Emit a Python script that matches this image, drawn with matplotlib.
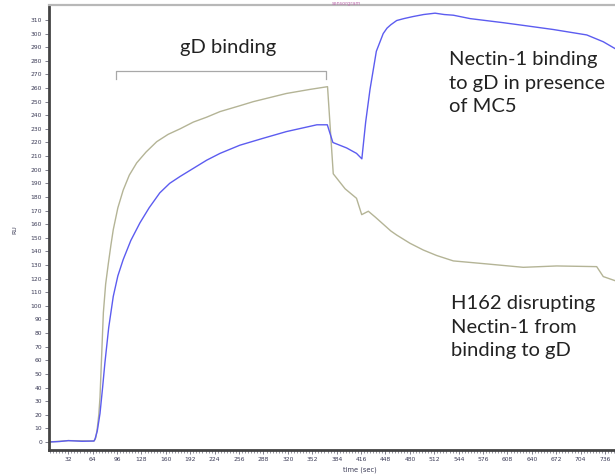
import matplotlib
matplotlib.use("Agg")
import matplotlib.pyplot as plt
from matplotlib.ticker import MultipleLocator

# ---- data ----
t_blue = [7, 20, 32, 50, 65.7, 67, 70, 73.6, 77, 80, 85, 91, 97, 104, 114, 126, 138, 152,
          165, 178.5, 196, 213.5, 231, 257, 287, 318, 358, 371.7, 379, 397, 410, 417,
          422, 427.7, 436, 445, 450, 455, 462.7, 472, 484, 498, 513, 525, 537, 559, 602.5,
          629, 668, 712, 733.6, 749]
v_blue = [0, 0.3, 1, 0.5, 0.7, 2, 8, 21, 40, 58, 84, 107, 122, 134, 148, 161, 172, 183,
          190, 195, 201, 207, 212, 218, 223, 228, 233, 233, 220, 216, 212, 208,
          235, 259, 287, 300, 304, 306.5, 309.6, 311, 312.5, 314, 315, 314, 313.5, 311, 308,
          306, 303, 299, 294, 289]

t_olive = [7, 32, 65.7, 68, 70, 72, 73.6, 75.5, 78, 81, 84.5, 88, 91, 97, 104, 112, 121.7,
           134, 148, 163, 178.5, 196, 213.5, 231, 257, 274.6, 318, 349, 372, 379.5, 395,
           410, 416.8, 425.5, 435, 445, 455, 462.7, 480, 497.6, 515, 537, 580.7, 628.7,
           672.5, 725, 733.6, 749]
v_olive = [0, 1, 0.7, 3, 10, 20, 33, 60, 95, 116, 131, 145, 156, 172, 185, 196, 205,
           213, 220.6, 226, 230, 235, 238.6, 242.7, 247, 250, 256, 259, 261, 197, 186,
           179, 167, 169.5, 165, 160, 155, 152, 146, 141, 137, 133, 130.8, 128.3,
           129.3, 128.8, 121.5, 118.5]

x_ticks = list(range(32, 737, 32))
y_ticks = list(range(0, 311, 10))

bracket_x = [94.6, 94.6, 370, 370]
bracket_y = [266.7, 272.6, 272.6, 266.7]

W, H = 615, 475
fig = plt.figure(figsize=(W / 100, H / 100), dpi=100)
ax = fig.add_axes([49 / W, 25 / H, (W - 49) / W, (450 - 5) / H])

ax.plot(t_olive, v_olive, color="#b4b496", lw=1.0)
ax.plot(t_blue, v_blue, color="#5c5cf0", lw=1.0)
ax.plot(bracket_x, bracket_y, color="#a8a8a8", lw=0.9)

ax.set_xlim(6.7, 749)
ax.set_ylim(-5.9, 321)
ax.set_xticks(x_ticks)
ax.set_yticks(y_ticks)
ax.xaxis.set_minor_locator(MultipleLocator(4))
ax.tick_params(axis="both", which="major", labelsize=4.3, colors="#6a6a7a",
               length=3, width=0.6, pad=2, labelcolor="#3a3a55")
ax.tick_params(axis="x", which="minor", length=1.8, width=0.5, colors="#6a6a7a")

for s in ["left", "bottom"]:
    ax.spines[s].set_color("#444444")
    ax.spines[s].set_linewidth(2.0)
ax.spines["right"].set_visible(False)
ax.spines["top"].set_color("#b8b8b8")
ax.spines["top"].set_linewidth(1.6)

fig.text(15 / W, 1 - 230 / H, "RU", rotation=90, fontsize=4.5, color="#3a3a55",
         ha="center", va="center")
fig.text(360 / W, 1 - 470 / H, "time (sec)", fontsize=4.8, color="#3a3a55",
         ha="center", va="center")
fig.text(346 / W, 1 - 0.5 / H, "sensorgram", fontsize=3.5, color="#c070b0", ha="center",
         va="top")

ann = dict(fontsize=14.5, color="#222222", family=["Lato", "DejaVu Sans"])
fig.text(228 / W, 1 - 47 / H, "gD binding", ha="center", va="center", **ann)
fig.text(449 / W, 1 - 51 / H, "Nectin-1 binding\nto gD in presence\nof MC5",
         ha="left", va="top", linespacing=1.48, **ann)
fig.text(451 / W, 1 - 295 / H, "H162 disrupting\nNectin-1 from\nbinding to gD",
         ha="left", va="top", linespacing=1.48, **ann)

fig.savefig("out.png", dpi=100)
